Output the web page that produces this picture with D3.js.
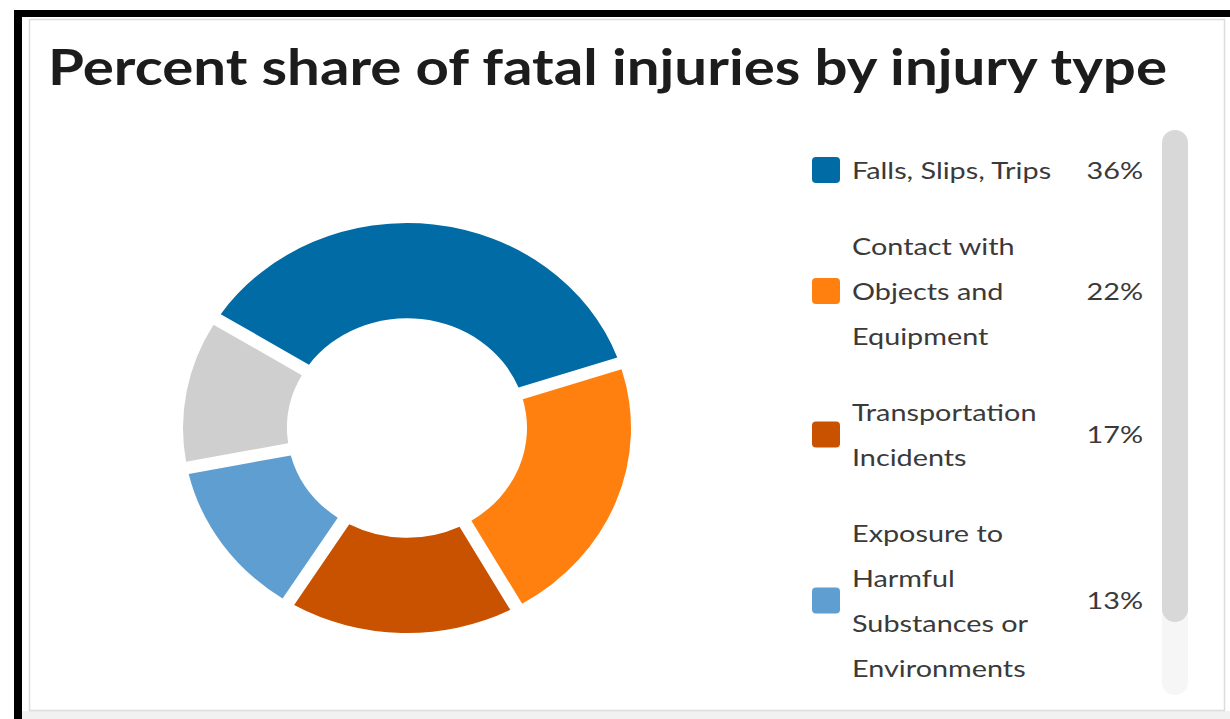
<!DOCTYPE html>
<html>
<head>
<meta charset="utf-8">
<script src="https://cdn.jsdelivr.net/npm/d3@7"></script>
<style>
  html, body { margin: 0; padding: 0; background: #ffffff; }
  svg { display: block; }
</style>
</head>
<body>
<svg id="chart" width="1230" height="719"></svg>
<script>
// ---- Data ----
const title = "Percent share of fatal injuries by injury type";
const categories = [
  "Falls, Slips, Trips",
  "Contact with Objects and Equipment",
  "Transportation Incidents",
  "Exposure to Harmful Substances or Environments",
  "Other"
];
const values = [36, 22, 17, 13, 12];
const colors = ["#006BA4", "#FF800E", "#C85200", "#5F9ED1", "#CFCFCF"];
// legend line breaks as shown (only first four entries are visible in the scrolled legend)
const legendLines = [
  ["Falls, Slips, Trips"],
  ["Contact with", "Objects and", "Equipment"],
  ["Transportation", "Incidents"],
  ["Exposure to", "Harmful", "Substances or", "Environments"]
];
const pctLabels = ["36%", "22%", "17%", "13%"];

// ---- Layout ----
const W = 1230, H = 719;
const svg = d3.select("#chart");
const textStretch = 1.2; // reference glyphs are wider than the available font

// frame
svg.append("rect").attr("x", 0).attr("y", 0).attr("width", W).attr("height", H).attr("fill", "#ffffff");
svg.append("rect").attr("x", 22).attr("y", 711).attr("width", W - 22).attr("height", 8).attr("fill", "#f1f1f1");
svg.append("rect").attr("x", 29.5).attr("y", 19.5).attr("width", 1195).attr("height", 691)
  .attr("fill", "#ffffff").attr("stroke", "#dcdcdc").attr("stroke-width", 1.5);
svg.append("rect").attr("x", 14).attr("y", 10).attr("width", 8).attr("height", H - 10).attr("fill", "#000");
svg.append("rect").attr("x", 14).attr("y", 10).attr("width", W - 14).attr("height", 7).attr("fill", "#000");

// title
svg.append("text")
  .attr("x", 48).attr("y", 85)
  .attr("font-family", "Lato, 'Open Sans', sans-serif")
  .attr("font-weight", 700)
  .attr("font-size", 50)
  .attr("fill", "#1c1c1c")
  .attr("textLength", 1119)
  .attr("lengthAdjust", "spacingAndGlyphs")
  .text(title);

// donut
const cx = 407, cy = 428, rOuter = 224, rInner = 120, yScale = 0.915;
const pie = d3.pie().sort(null).value(d => d)
  .startAngle(-58 * Math.PI / 180)
  .endAngle(302 * Math.PI / 180);
const arc = d3.arc().innerRadius(rInner).outerRadius(rOuter)
  .padAngle(0.08).padRadius(170);
const g = svg.append("g").attr("transform", `translate(${cx},${cy}) scale(1,${yScale})`);
g.selectAll("path").data(pie(values)).join("path")
  .attr("d", arc)
  .attr("fill", (d, i) => colors[i]);

// legend
function stretch(sel) {
  sel.each(function () {
    const len = this.getComputedTextLength();
    d3.select(this).attr("textLength", len * textStretch).attr("lengthAdjust", "spacingAndGlyphs");
  });
}
const lineH = 45, itemGap = 31;
const legend = svg.append("g");
let y = 170;
legendLines.forEach((lines, i) => {
  const center = y + (lines.length - 1) * lineH / 2;
  legend.append("rect")
    .attr("x", 812).attr("y", center - 13).attr("width", 28).attr("height", 26)
    .attr("rx", 4).attr("fill", colors[i]);
  lines.forEach((ln, j) => {
    legend.append("text")
      .attr("x", 852).attr("y", y + j * lineH)
      .attr("dy", "0.36em")
      .attr("font-family", "Lato, 'Open Sans', sans-serif")
      .attr("font-size", 24)
      .attr("fill", "#3a3a3a")
      .text(ln)
      .call(stretch);
  });
  legend.append("text")
    .attr("x", 1143).attr("y", center)
    .attr("dy", "0.36em")
    .attr("text-anchor", "end")
    .attr("font-family", "Lato, 'Open Sans', sans-serif")
    .attr("font-size", 24)
    .attr("fill", "#3a3a3a")
    .text(pctLabels[i])
    .call(stretch);
  y += lines.length * lineH + itemGap;
});

// scrollbar
svg.append("rect").attr("x", 1162).attr("y", 130).attr("width", 26).attr("height", 565)
  .attr("rx", 13).attr("fill", "#f6f6f6");
svg.append("rect").attr("x", 1162).attr("y", 130).attr("width", 26).attr("height", 492)
  .attr("rx", 13).attr("fill", "#d8d8d8");
</script>
</body>
</html>
